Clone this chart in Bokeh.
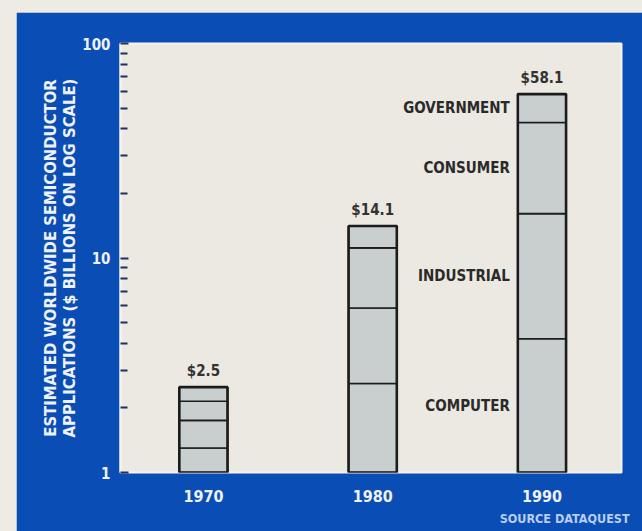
from bokeh.plotting import figure
from bokeh.models import ColumnDataSource, Title, FixedTicker
from bokeh.layouts import column
from bokeh.core.properties import value
from bokeh.embed import file_html
from bokeh.resources import INLINE

# Estimated worldwide semiconductor applications, $ billions
years = [1970, 1980, 1990]
applications = ["COMPUTER", "INDUSTRIAL", "CONSUMER", "GOVERNMENT"]
computer = [1.3, 2.6, 4.2]
industrial = [0.45, 3.25, 11.9]
consumer = [0.4, 5.3, 26.7]
government = [0.35, 2.95, 15.3]
y_ticks = [1, 10, 100]

BLUE = "#0a4db5"
PAPER = "#ebe9e1"
BAR = "#c9cecf"
INK = "#1c1c1c"
FONT = "DejaVu Sans Condensed"
LIGHT = "#eef2fb"

series = [computer, industrial, consumer, government]
y_floor = y_ticks[0]

p = figure(
    width=626, height=519,
    y_axis_type="log", y_range=(y_ticks[0], y_ticks[-1]),
    x_range=(1965.1, 1994.7),
    output_backend="svg", toolbar_location=None,
    min_border_left=104, min_border_right=21,
    min_border_top=31, min_border_bottom=59,
    background_fill_color=PAPER, border_fill_color=BLUE,
    outline_line_color="#f6f4ee", outline_line_width=2,
)
p.margin = (12, 0, 0, 16)
p.grid.visible = False

# stacked segments
bar_w = 2.85
bottoms = [y_floor] * len(years)
running = [0.0] * len(years)
seg_rows = {"x": [], "bottom": [], "top": []}
for vals in series:
    for i, v in enumerate(vals):
        running[i] += v
        seg_rows["x"].append(years[i])
        seg_rows["bottom"].append(bottoms[i])
        seg_rows["top"].append(running[i])
        bottoms[i] = running[i]
totals = running[:]

p.vbar(x="x", bottom="bottom", top="top", width=bar_w,
       source=ColumnDataSource(seg_rows),
       fill_color=BAR, line_color=INK, line_width=1.6)
# heavier outline around each whole bar
p.vbar(x=years, bottom=[y_floor] * len(years), top=totals, width=bar_w,
       fill_color=None, line_color=INK, line_width=2.6)

# total labels above each bar
p.text(x=years, y=totals, text=["$%.1f" % t for t in totals],
       text_font=value(FONT), text_font_style="bold", text_font_size="15px",
       text_color="#333333", text_align="center", text_baseline="bottom",
       y_offset=-7)

# application names beside the 1990 bar, at each segment's log midpoint
last = len(years) - 1
lab_y = []
lo = y_floor
acc = 0.0
for vals in series:
    acc += vals[last]
    lab_y.append((lo * acc) ** 0.5)
    lo = acc
p.text(x=[years[last] - bar_w / 2] * len(applications), y=lab_y, text=applications,
       text_font=value(FONT), text_font_style="bold", text_font_size="15px",
       text_color="#2a2a2a", text_align="right", text_baseline="middle",
       x_offset=-8)

# axes
p.yaxis.ticker = FixedTicker(ticks=y_ticks,
                             minor_ticks=[m * d for d in y_ticks[:-1] for m in range(2, 10)])
p.yaxis.major_label_overrides = {t: str(t) for t in y_ticks}
p.yaxis.axis_label = "ESTIMATED WORLDWIDE SEMICONDUCTOR\nAPPLICATIONS ($ BILLIONS ON LOG SCALE)"
p.yaxis.axis_label_text_font = FONT
p.yaxis.axis_label_text_font_style = "bold"
p.yaxis.axis_label_text_font_size = "16.5px"
p.yaxis.axis_label_text_line_height = 1.0
p.yaxis.axis_label_text_color = LIGHT
p.yaxis.axis_label_standoff = 0
p.yaxis.major_label_text_font = FONT
p.yaxis.major_label_text_font_style = "bold"
p.yaxis.major_label_text_font_size = "15px"
p.yaxis.major_label_text_color = LIGHT
p.yaxis.major_label_standoff = 10
p.yaxis.axis_line_color = "#f6f4ee"
p.yaxis.axis_line_width = 2
p.yaxis.major_tick_in = 8
p.yaxis.major_tick_out = 0
p.yaxis.minor_tick_in = 7
p.yaxis.minor_tick_out = 0
p.yaxis.major_tick_line_color = "#23305e"
p.yaxis.minor_tick_line_color = "#23305e"
p.yaxis.major_tick_line_width = 2
p.yaxis.minor_tick_line_width = 2

p.xaxis.ticker = FixedTicker(ticks=years)
p.xaxis.major_label_text_font = FONT
p.xaxis.major_label_text_font_style = "bold"
p.xaxis.major_label_text_font_size = "16px"
p.xaxis.major_label_text_color = LIGHT
p.xaxis.major_label_standoff = 11
p.xaxis.axis_line_color = None
p.xaxis.major_tick_line_color = None
p.xaxis.minor_tick_line_color = None

src = Title(text="SOURCE  DATAQUEST", align="right", text_font=FONT,
            text_font_size="12.5px", text_font_style="bold", text_color="#b8cdf2",
            offset=-12, standoff=9)
p.add_layout(src, "below")

root = column(p, styles={"background-color": "#eeebe4"})
open("out.html", "w").write(file_html(root, INLINE))
